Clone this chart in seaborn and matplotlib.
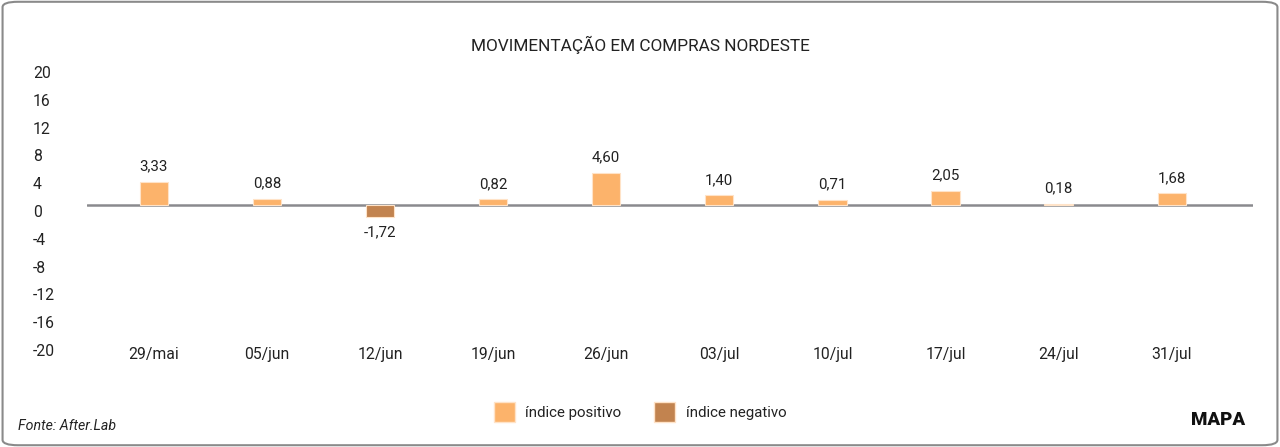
import matplotlib
matplotlib.use("Agg")
import matplotlib.pyplot as plt
import seaborn as sns
import pandas as pd
from matplotlib.patches import FancyBboxPatch, Patch

# ── data ─────────────────────────────────────
semanas = ["29/mai", "05/jun", "12/jun", "19/jun", "26/jun",
           "03/jul", "10/jul", "17/jul", "24/jul", "31/jul"]
valores = [3.33, 0.88, -1.72, 0.82, 4.60, 1.40, 0.71, 2.05, 0.18, 1.68]
yticks = [20, 16, 12, 8, 4, 0, -4, -8, -12, -16, -20]

COR_POS = "#FCB36B"
COR_NEG = "#C2834F"

df = pd.DataFrame({"semana": semanas, "valor": valores})
df["tipo"] = ["índice positivo" if v >= 0 else "índice negativo" for v in df["valor"]]

sns.set_theme(style="white")
plt.rcParams["font.family"] = ["Roboto", "DejaVu Sans"]

fig = plt.figure(figsize=(12.8, 4.47), dpi=100)
ax = fig.add_axes([0.068, 0.2304, 0.911, 0.6219])

sns.barplot(data=df, x="semana", y="valor", hue="tipo",
            palette={"índice positivo": COR_POS, "índice negativo": COR_NEG},
            dodge=False, width=0.25, edgecolor="#FFE3C8", linewidth=0.8,
            saturation=1, legend=False, ax=ax)

ax.axhline(0, color="#8A8A8E", lw=1.8, zorder=0)
ax.set_ylim(-20, 20)
ax.set_xlim(-0.59, 9.72)
ax.set_yticks(yticks)
ax.set_yticklabels([str(t) for t in yticks], ha="left", va="top")
ax.tick_params(axis="y", length=0, pad=39, labelsize=11.3, labelcolor="#222222")
ax.tick_params(axis="x", length=0, pad=2, labelsize=11.3, labelcolor="#222222")
ax.set_xlabel("")
ax.set_ylabel("")
for s in ax.spines.values():
    s.set_visible(False)

# rótulos dos valores
for i, v in enumerate(valores):
    txt = f"{v:.2f}".replace(".", ",")
    if v >= 0:
        ax.annotate(txt, (i, v), xytext=(0, 6), textcoords="offset points",
                    ha="center", va="bottom", fontsize=10.8, color="#222222")
    else:
        ax.annotate(txt, (i, v), xytext=(0, -6), textcoords="offset points",
                    ha="center", va="top", fontsize=10.8, color="#222222")

fig.text(0.5, 0.9, "MOVIMENTAÇÃO EM COMPRAS NORDESTE", ha="center",
         va="center", fontsize=12.4, color="#222222")

handles = [Patch(facecolor=COR_POS, edgecolor="#FFE3C8"),
           Patch(facecolor=COR_NEG, edgecolor="#FFE3C8")]
fig.legend(handles, ["índice positivo", "índice negativo"], loc="center",
           bbox_to_anchor=(0.5, 0.078), ncol=2, frameon=False, fontsize=10.8,
           handlelength=1.4, handleheight=1.6, columnspacing=2.2,
           handletextpad=0.7, labelcolor="#222222")

fig.text(0.014, 0.048, "Fonte: After.Lab", ha="left", va="center",
         fontsize=10.2, style="italic", color="#222222")
fig.text(0.973, 0.06, "MAPA", ha="right", va="center",
         fontsize=13.5, fontweight="black", color="#111111")

# moldura arredondada
borda = FancyBboxPatch((0.002, 0.004), 0.996, 0.992,
                       boxstyle="round,pad=0,rounding_size=0.012",
                       transform=fig.transFigure, fill=False,
                       edgecolor="#8A8A8A", lw=1.5)
fig.patches.append(borda)

fig.savefig("out.png", dpi=100)
